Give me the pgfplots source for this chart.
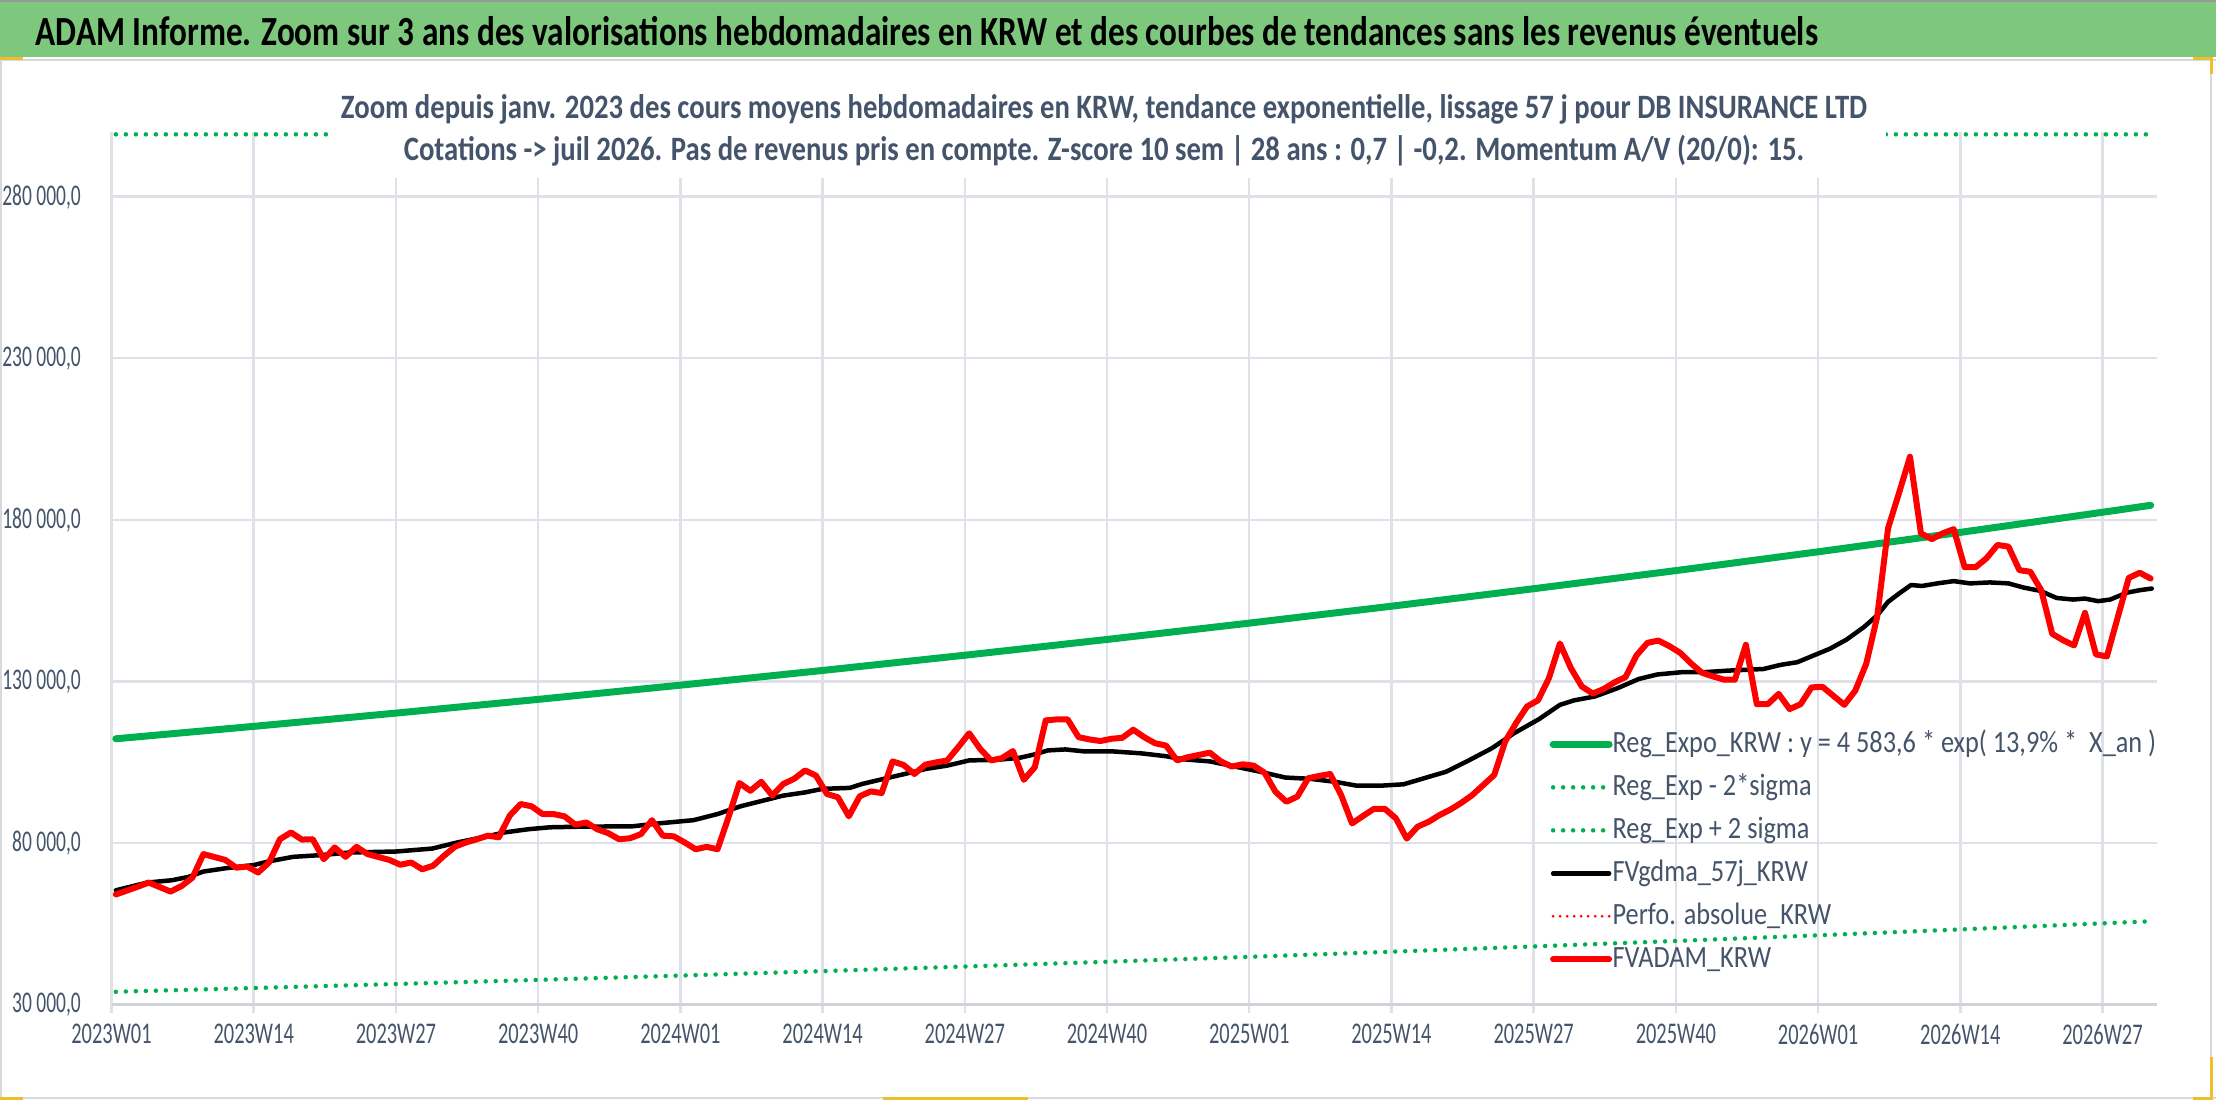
\documentclass[border=0pt]{standalone}
\usepackage{pgfplots}
\pgfplotsset{compat=1.18}
\usepackage{pgfplotstable}
\usepackage{fontspec}
\setmainfont{Carlito}
\newfontfamily\titlefont{Carlito}[FakeStretch=0.803]
\newfontfamily\subfont{Carlito}[FakeStretch=0.84]
\newfontfamily\legfont{Carlito}[FakeStretch=0.85]
\newfontfamily\tickfont{Carlito}[FakeStretch=0.68]
\newfontfamily\ytickfont{Carlito}[FakeStretch=0.65]
\definecolor{xlgreen}{RGB}{0,176,80}
\definecolor{xlred}{RGB}{255,0,0}
\definecolor{txtgray}{RGB}{68,84,106}
\definecolor{gridc}{RGB}{222,226,232}
\definecolor{axisc}{RGB}{208,212,218}
\definecolor{barc}{RGB}{126,200,126}
\definecolor{framec}{RGB}{217,217,217}
\definecolor{selyel}{RGB}{240,190,40}

\pgfplotstableread{
x y
0.4 112200
13.4 116167
26.4 120275
39.4 124528
52.4 128932
65.4 133490
78.4 138210
91.4 143098
104.4 148160
117.4 153397
130.4 158821
143.4 164437
156.4 170256
169.4 176276
182.4 182508
186.4 184470
}\greentab

\pgfplotstableread{
x y
0.4 33884
13.4 35082
26.4 36323
39.4 37607
52.4 38937
65.4 40314
78.4 41739
91.4 43216
104.4 44744
117.4 46326
130.4 47964
143.4 49660
156.4 51417
169.4 53235
182.4 55117
186.4 55710
}\lowtab

\pgfplotstableread{
x y
0.4 299300
186.4 299300
}\hightab

\pgfplotstableread{
x y
0.4 65300
3.3 67700
5.5 68400
7 69400
8.4 71100
10.4 72100
13 73100
14.3 74200
16.6 75650
19.2 76200
21.8 77000
26 77300
29.3 78200
31.6 80100
34.2 81900
35.9 83200
38.1 84200
40.1 84800
43 85000
47.6 85100
50.3 86100
53.2 87000
55.4 88900
57.5 91300
59.5 93000
61.4 94600
63.4 95600
65 96700
67.5 97000
68.6 98200
70.6 99800
72.5 101300
74.5 102900
76.4 103900
78.4 105500
81 105700
83 106300
84.3 107300
85.6 108600
87.2 108900
88.9 108300
91.5 108300
94.1 107700
96.4 106800
97.8 105900
100.4 105200
102.7 103600
105 102000
107.3 100200
109.6 99800
111.8 98900
113.8 97700
116.1 97700
118.1 98100
120 100000
122 102000
123.9 105200
126.2 109300
128.2 113900
130.5 118300
132.4 122700
133.7 124100
135.6 125300
137.7 127900
139.6 130700
141.3 132100
143.5 132800
145.5 132800
147.8 133300
151 133800
152.6 135100
154.1 135900
155.6 138000
157.1 140100
158.6 142900
160.2 146800
161.4 150400
162.4 154600
163.5 157400
164.5 159800
165.5 159500
166.9 160300
168.4 161000
169.9 160300
171.7 160600
173.4 160300
174.8 159000
176.3 158000
177.8 155800
179.3 155300
180.4 155600
181.6 154800
182.7 155300
184.2 157400
185.4 158200
186.5 158700
}\blacktab

\pgfplotstableread{
x y
0.4 64000
1.4 65200
2.4 66400
3.4 67700
4.4 66300
5.4 64900
6.4 66600
7.4 69200
8.4 76500
9.4 75600
10.4 74700
11.4 72300
12.4 72650
13.4 70800
14.4 73900
15.4 81100
16.4 83200
17.4 81000
18.4 81100
19.4 74900
20.4 78550
21.4 75650
22.4 78750
23.4 76500
24.4 75600
25.4 74700
26.4 73200
27.4 73900
28.4 71800
29.4 72900
30.4 76000
31.4 78800
32.4 80100
33.4 81100
34.4 82200
35.4 81700
36.4 88400
37.4 92000
38.4 91300
39.4 88900
40.4 88900
41.4 88200
42.4 85600
43.4 86300
44.4 84200
45.4 83000
46.4 81100
47.4 81400
48.4 82700
49.4 87000
50.4 82200
51.4 82000
52.4 80100
53.4 78000
54.4 78750
55.4 78000
56.4 87900
57.4 98500
58.4 96100
59.4 98900
60.4 94600
61.4 98200
62.4 99800
63.4 102400
64.4 100800
65.4 95100
66.4 94100
67.4 88200
68.4 94400
69.4 95900
70.4 95400
71.4 105200
72.4 104100
73.4 101300
74.4 104200
75.4 104900
76.4 105500
77.4 109600
78.4 113900
79.4 109100
80.4 105500
81.4 106200
82.4 108400
83.4 99500
84.4 103400
85.4 117900
86.4 118200
87.4 118200
88.4 112700
89.4 112000
90.4 111500
91.4 112200
92.4 112500
93.4 115000
94.4 112700
95.4 110800
96.4 110100
97.4 105500
98.4 106500
99.4 107200
100.4 107900
101.4 105200
102.4 103600
103.4 104300
104.4 103900
105.4 101700
106.4 95800
107.4 92700
108.4 94300
109.4 100000
110.4 100700
111.4 101300
112.4 94800
113.4 86000
114.4 88300
115.4 90500
116.4 90500
117.4 87600
118.4 81300
119.4 85000
120.4 86500
121.4 88600
122.4 90300
123.4 92400
124.4 94800
125.4 97900
126.4 101000
127.4 111400
128.4 117100
129.4 122200
130.4 124100
131.4 131000
132.4 141700
133.4 134100
134.4 128400
135.4 126200
136.4 127600
137.4 129700
138.4 131300
139.4 138000
140.4 141900
141.4 142600
142.4 140900
143.4 138800
144.4 135500
145.4 132600
146.4 131500
147.4 130500
148.4 130500
149.4 141300
150.4 122900
151.4 122900
152.4 126100
153.4 121400
154.4 122900
155.4 128100
156.4 128300
157.4 125500
158.4 122700
159.4 127100
160.4 135400
161.4 149900
162.4 177400
163.4 188300
164.4 199500
165.4 175800
166.4 174000
167.4 175800
168.4 177100
169.4 165300
170.4 165300
171.4 168100
172.4 172200
173.4 171700
174.4 164400
175.4 163900
176.4 158200
177.4 144700
178.4 142700
179.4 141100
180.4 151200
181.4 138300
182.4 137700
183.4 149900
184.4 162000
185.4 163600
186.4 161800
}\redtab

\tikzset{
  gdot/.style={line width=0.45mm, line cap=round, dash pattern=on 0pt off 1.0mm},
  rdot/.style={line width=0.3mm, line cap=round, dash pattern=on 0pt off 0.7mm},
}

\begin{document}
\begin{tikzpicture}
% background and frame (units: 1 = 0.1 mm = one reference pixel, y downwards)
\begin{scope}[x=0.1mm,y=-0.1mm]
  \fill[white] (0,0) rectangle (2216,1102);
  \fill[barc] (0,0) rectangle (2216,57);
  \draw[gray!80, line width=0.2mm] (0,1) -- (2216,1);
  \draw[framec, line width=0.25mm] (0,60) -- (2216,60);
  \draw[framec, line width=0.25mm] (2211,60) -- (2211,1098);
  \draw[framec, line width=0.25mm] (0,1098) -- (2216,1098);
  \draw[framec, line width=0.2mm] (1,60) -- (1,1098);
  \draw[selyel, line width=0.3mm] (0,58) -- (23,58);
  \draw[selyel, line width=0.3mm] (2193,58) -- (2211,58) -- (2211,74);
  \draw[selyel, line width=0.3mm] (2211,1057) -- (2211,1098) -- (2193,1098);
  \draw[selyel, line width=0.3mm] (0,1098) -- (23,1098);
  \draw[selyel, line width=0.3mm] (883,1098) -- (1028,1098);
\end{scope}

\begin{axis}[
  at={(11.15mm,-100.43mm)}, anchor=south west,
  width=204.57mm, height=87.22mm, scale only axis,
  xmin=0, xmax=187, ymin=30000, ymax=300000,
  clip=false,
  scaled y ticks=false, scaled x ticks=false,
  axis x line*=bottom, axis y line*=left,
  x axis line style={draw=axisc, line width=0.3mm, -},
  y axis line style={draw=none},
  grid=major,
  major grid style={draw=gridc, line width=0.25mm},
  xtick={0,13,...,182},
  xticklabels={2023W01,2023W14,2023W27,2023W40,2024W01,2024W14,2024W27,2024W40,2025W01,2025W14,2025W27,2025W40,2026W01,2026W14,2026W27},
  ytick={30000,80000,130000,180000,230000,280000},
  yticklabels={{30 000,0},{80 000,0},{130 000,0},{180 000,0},{230 000,0},{280 000,0}},
  tick align=outside,
  major tick length=0.9mm,
  xtick style={draw=gridc, line width=0.25mm},
  ytick style={draw=none},
  xticklabel style={font=\tickfont\fontsize{8.54pt}{10pt}\selectfont, text=txtgray, inner sep=0pt, anchor=north, yshift=-1.0mm},
  yticklabel style={font=\ytickfont\fontsize{8.54pt}{10pt}\selectfont, text=txtgray, inner sep=0pt, anchor=east, xshift=-2.1mm},
  no markers,
  legend cell align=left,
  legend image code/.code={\draw[#1] (0.35mm,0mm) -- (5.95mm,0mm);},
  legend style={at={(0.7030,0.3141)}, anchor=north west, draw=none, fill=none,
    inner sep=0pt, outer sep=0pt, row sep=1.5mm,
    font=\legfont\fontsize{8.8pt}{10pt}\selectfont,
    nodes={inner sep=0pt, text height=2.2mm, text depth=0.6mm, text=txtgray},
    /tikz/every even column/.append style={column sep=1.1mm}},
]
\addplot[xlgreen, line width=0.7mm, line cap=round, line join=round] table[x=x,y=y] {\greentab};
\addlegendentry{Reg\_Expo\_KRW : y = 4 583,6 * exp( 13,9\% *\ \ X\_an )}
\addplot[xlgreen, gdot] table[x=x,y=y] {\lowtab};
\addlegendentry{Reg\_Exp - 2*sigma}
\addplot[xlgreen, gdot] table[x=x,y=y] {\hightab};
\addlegendentry{Reg\_Exp + 2 sigma}
\addplot[black, line width=0.45mm, line join=round, line cap=round] table[x=x,y=y] {\blacktab};
\addlegendentry{FVgdma\_57j\_KRW}
\addlegendimage{xlred, rdot}
\addlegendentry{Perfo. absolue\_KRW}
\addplot[xlred, line width=0.6mm, line join=round, line cap=round] table[x=x,y=y] {\redtab};
\addlegendentry{FVADAM\_KRW}
\end{axis}

\begin{scope}[x=0.1mm,y=-0.1mm]
  \fill[white] (330,64) rectangle (1886,178);
  \node[anchor=base west, inner sep=0pt, font=\titlefont\bfseries\fontsize{11.78pt}{13pt}\selectfont] at (35,45)
    {ADAM Informe. Zoom sur 3 ans des valorisations hebdomadaires en KRW et des courbes de tendances sans les revenus éventuels};
  \node[anchor=base, inner sep=0pt, text=txtgray, font=\subfont\bfseries\fontsize{9.72pt}{11pt}\selectfont] at (1104,118)
    {Zoom depuis janv. 2023 des cours moyens hebdomadaires en KRW, tendance exponentielle, lissage 57 j pour DB INSURANCE LTD};
  \node[anchor=base, inner sep=0pt, text=txtgray, font=\subfont\bfseries\fontsize{9.72pt}{11pt}\selectfont] at (1104,160)
    {Cotations -> juil 2026. Pas de revenus pris en compte. Z-score 10 sem | 28 ans : 0,7 | -0,2. Momentum A/V (20/0): 15.};
\end{scope}
\pgfresetboundingbox
\useasboundingbox (0,0) rectangle (221.6mm,-110.2mm);
\end{tikzpicture}
\end{document}
